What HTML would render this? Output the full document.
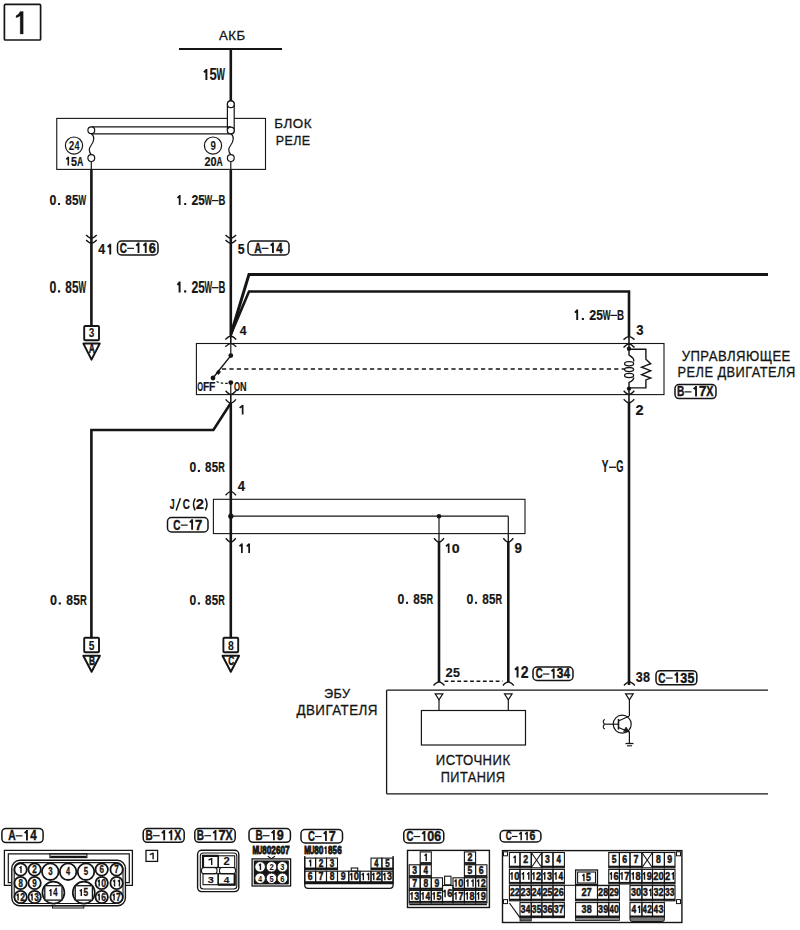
<!DOCTYPE html>
<html><head><meta charset="utf-8"><style>
html,body{margin:0;padding:0;background:#fff;width:800px;height:930px;overflow:hidden}
svg{display:block}
text{font-family:"Liberation Sans",sans-serif;fill:#151515}

</style></head><body>
<svg width="800" height="930" viewBox="0 0 800 930" stroke="#151515" stroke-linecap="butt">
<rect x="0" y="0" width="800" height="930" fill="#fff" stroke="none"/>
<g stroke="#151515">
<rect x="4.4" y="4.4" width="36.2" height="35.6" rx="1" fill="none" stroke-width="1.7" />
<path d="M20.2,11.6 L23.2,11.6 L23.2,34 L20.2,34 L20.2,15.8 Q18.5,17.3 16,17.6 L16,15.7 Q18.8,15 20.2,11.6 Z" fill="#151515" stroke-width="0.3" />
<text x="219.00" y="39.7" font-size="12.43" letter-spacing="0.44" textLength="26.50" lengthAdjust="spacingAndGlyphs" stroke-width="0.3">АКБ</text>
<line x1="179" y1="49" x2="282" y2="49" stroke-width="2.2" />
<line x1="230.8" y1="49" x2="230.8" y2="104" stroke-width="2.6" />
<path d="M206.40,69.00 L206.40,80.00 M206.60,69.59 L204.00,72.30" stroke-width="1.98" fill="none" stroke-linecap="butt"/>
<text transform="translate(209.61,80) scale(0.825,1)" font-size="15.71" font-weight="bold" stroke-width="0.20">5</text>
<text transform="translate(216.55,80) scale(0.569,1)" font-size="15.71" font-weight="bold" stroke-width="0.20">W</text>
<rect x="56.75" y="118.4" width="208.75" height="51.0" rx="0" fill="none" stroke-width="1.1" />
<text x="274.25" y="127.75" font-size="12.86" letter-spacing="0.45" textLength="37.75" lengthAdjust="spacingAndGlyphs" stroke-width="0.3">БЛОК</text>
<text x="275.75" y="145.4" font-size="13.43" letter-spacing="0.47" textLength="34.75" lengthAdjust="spacingAndGlyphs" stroke-width="0.3">РЕЛЕ</text>
<path d="M227.4,104.3 L227.4,130.5 A3.4,3.4 0 0 0 234.2,130.5 L234.2,104.3 A3.4,3.4 0 0 0 227.4,104.3 Z" fill="#fff" stroke-width="1.2" />
<circle cx="230.8" cy="104.3" r="3.4" fill="#fff" stroke-width="1.2"/>
<line x1="91.3" y1="126.8" x2="231" y2="126.8" stroke-width="1.3" />
<line x1="91.3" y1="133.9" x2="229" y2="133.9" stroke-width="1.3" />
<circle cx="91.3" cy="130.3" r="3.4" fill="#fff" stroke-width="1.2"/>
<circle cx="230.8" cy="130.5" r="3.4" fill="#fff" stroke-width="1.2"/>
<path d="M91.3,133.7 C94.8,136 94.3,141 91.3,145 C88.3,149 88.8,152 91.3,154.7" fill="none" stroke-width="1.2" />
<circle cx="91.3" cy="158.1" r="3.4" fill="#fff" stroke-width="1.2"/>
<path d="M230.8,133.7 C234.3,136 233.8,141 230.8,145 C227.8,149 228.3,152 230.8,154.7" fill="none" stroke-width="1.2" />
<circle cx="230.8" cy="158.1" r="3.4" fill="#fff" stroke-width="1.2"/>
<circle cx="74" cy="145.6" r="8.6" fill="#fff" stroke-width="1.2"/>
<text transform="translate(68.65,149.7) scale(0.845,1)" font-size="11.86" font-weight="bold" stroke-width="0.00">2</text>
<text transform="translate(74.46,149.7) scale(0.758,1)" font-size="11.86" font-weight="bold" stroke-width="0.00">4</text>
<path d="M68.31,156.70 L68.31,165.50 M68.47,157.18 L66.30,159.34" stroke-width="1.58" fill="none" stroke-linecap="butt"/>
<text transform="translate(70.93,165.5) scale(0.851,1)" font-size="12.57" font-weight="bold" stroke-width="0.20">5</text>
<text transform="translate(76.97,165.5) scale(0.702,1)" font-size="12.57" font-weight="bold" stroke-width="0.20">A</text>
<circle cx="213" cy="145.6" r="8.6" fill="#fff" stroke-width="1.2"/>
<text transform="translate(210.56,149.7) scale(0.808,1)" font-size="12.00" font-weight="bold" stroke-width="0.00">9</text>
<text transform="translate(204.62,165.5) scale(0.859,1)" font-size="12.57" font-weight="bold" stroke-width="0.20">2</text>
<text transform="translate(210.59,165.5) scale(0.868,1)" font-size="12.57" font-weight="bold" stroke-width="0.20">0</text>
<text transform="translate(216.56,165.5) scale(0.679,1)" font-size="12.57" font-weight="bold" stroke-width="0.20">A</text>
<line x1="91.3" y1="161.5" x2="91.3" y2="169.4" stroke-width="1.2" />
<line x1="230.8" y1="161.5" x2="230.8" y2="169.4" stroke-width="1.2" />
<line x1="91.4" y1="169.4" x2="91.4" y2="326" stroke-width="2.6" />
<line x1="230.8" y1="169.4" x2="230.8" y2="336.5" stroke-width="2.6" />
<line x1="230.8" y1="336.5" x2="230.8" y2="344" stroke-width="1.6" />
<text transform="translate(49.51,205) scale(0.862,1)" font-size="14.29" font-weight="bold" stroke-width="0.20">0</text>
<rect x="58.05" y="203.00" width="2.00" height="2.00" fill="#151515" stroke="none"/>
<text transform="translate(65.30,205) scale(0.828,1)" font-size="14.29" font-weight="bold" stroke-width="0.20">8</text>
<text transform="translate(72.11,205) scale(0.819,1)" font-size="14.29" font-weight="bold" stroke-width="0.20">5</text>
<text transform="translate(78.38,205) scale(0.565,1)" font-size="14.29" font-weight="bold" stroke-width="0.20">W</text>
<path d="M179.68,195.00 L179.68,205.00 M179.86,195.54 L177.50,198.00" stroke-width="1.80" fill="none" stroke-linecap="butt"/>
<rect x="184.19" y="203.00" width="2.00" height="2.00" fill="#151515" stroke="none"/>
<text transform="translate(191.39,205) scale(0.857,1)" font-size="14.29" font-weight="bold" stroke-width="0.20">2</text>
<text transform="translate(198.30,205) scale(0.823,1)" font-size="14.29" font-weight="bold" stroke-width="0.20">5</text>
<text transform="translate(204.60,205) scale(0.567,1)" font-size="14.29" font-weight="bold" stroke-width="0.20">W</text>
<rect x="212.01" y="200.03" width="6.49" height="1.15" fill="#151515" stroke="none"/>
<text transform="translate(218.57,205) scale(0.667,1)" font-size="14.29" font-weight="bold" stroke-width="0.20">B</text>
<path d="M86.10,235.10 Q89.55,238.46 91.40,238.30 Q93.26,238.46 96.70,235.10" fill="none" stroke-width="1.4" />
<path d="M86.10,239.90 Q89.55,243.26 91.40,243.10 Q93.26,243.26 96.70,239.90" fill="none" stroke-width="1.4" />
<path d="M225.50,235.10 Q228.95,238.46 230.80,238.30 Q232.66,238.46 236.10,235.10" fill="none" stroke-width="1.4" />
<path d="M225.50,239.90 Q228.95,243.26 230.80,243.10 Q232.66,243.26 236.10,239.90" fill="none" stroke-width="1.4" />
<text transform="translate(98.21,254.4) scale(0.821,1)" font-size="15.14" font-weight="bold" stroke-width="0.20">4</text>
<path d="M110.25,243.80 L110.25,254.40 M110.44,244.37 L107.72,246.98" stroke-width="1.91" fill="none" stroke-linecap="butt"/>
<rect x="117.5" y="241" width="40.5" height="14" rx="4.0" fill="none" stroke-width="1.5" />
<text transform="translate(119.77,252.88) scale(0.669,1)" font-size="14.80" font-weight="bold" stroke-width="0.45">C</text>
<rect x="127.19" y="247.73" width="6.85" height="1.19" fill="#151515" stroke="none"/>
<path d="M138.51,242.52 L138.51,252.88 M138.70,243.08 L136.20,245.63" stroke-width="1.86" fill="none" stroke-linecap="butt"/>
<path d="M145.72,242.52 L145.72,252.88 M145.91,243.08 L143.41,245.63" stroke-width="1.86" fill="none" stroke-linecap="butt"/>
<text transform="translate(148.69,252.88) scale(0.864,1)" font-size="14.80" font-weight="bold" stroke-width="0.45">6</text>
<text transform="translate(237.63,254.4) scale(0.819,1)" font-size="15.14" font-weight="bold" stroke-width="0.20">5</text>
<rect x="248" y="241" width="41" height="14" rx="4.0" fill="none" stroke-width="1.5" />
<text transform="translate(254.19,252.88) scale(0.689,1)" font-size="14.80" font-weight="bold" stroke-width="0.45">A</text>
<rect x="261.65" y="247.73" width="6.84" height="1.19" fill="#151515" stroke="none"/>
<path d="M272.95,242.52 L272.95,252.88 M273.13,243.08 L270.64,245.63" stroke-width="1.86" fill="none" stroke-linecap="butt"/>
<text transform="translate(276.19,252.88) scale(0.782,1)" font-size="14.80" font-weight="bold" stroke-width="0.45">4</text>
<text transform="translate(49.51,292.5) scale(0.784,1)" font-size="15.71" font-weight="bold" stroke-width="0.20">0</text>
<rect x="57.95" y="290.30" width="2.20" height="2.20" fill="#151515" stroke="none"/>
<text transform="translate(65.30,292.5) scale(0.752,1)" font-size="15.71" font-weight="bold" stroke-width="0.20">8</text>
<text transform="translate(72.11,292.5) scale(0.745,1)" font-size="15.71" font-weight="bold" stroke-width="0.20">5</text>
<text transform="translate(78.38,292.5) scale(0.513,1)" font-size="15.71" font-weight="bold" stroke-width="0.20">W</text>
<path d="M179.59,281.50 L179.59,292.50 M179.78,282.09 L177.50,284.80" stroke-width="1.98" fill="none" stroke-linecap="butt"/>
<rect x="184.09" y="290.30" width="2.20" height="2.20" fill="#151515" stroke="none"/>
<text transform="translate(191.39,292.5) scale(0.779,1)" font-size="15.71" font-weight="bold" stroke-width="0.20">2</text>
<text transform="translate(198.30,292.5) scale(0.748,1)" font-size="15.71" font-weight="bold" stroke-width="0.20">5</text>
<text transform="translate(204.60,292.5) scale(0.515,1)" font-size="15.71" font-weight="bold" stroke-width="0.20">W</text>
<rect x="212.01" y="287.03" width="6.49" height="1.27" fill="#151515" stroke="none"/>
<text transform="translate(218.57,292.5) scale(0.606,1)" font-size="15.71" font-weight="bold" stroke-width="0.20">B</text>
<rect x="84.2" y="326" width="14.799999999999997" height="14.300000000000011" rx="1" fill="none" stroke-width="1.9" />
<text transform="translate(88.86,337.4) scale(0.792,1)" font-size="12.71" font-weight="bold" stroke-width="0.10">3</text>
<path d="M83.4,343.6 L99.7,343.6 L91.5,359.6 Z" fill="#fff" stroke-width="2.0" stroke-linejoin="round"/>
<text transform="translate(88.84,353.4) scale(0.647,1)" font-size="13.14" font-weight="bold" stroke-width="0.55">A</text>
<polyline points="231,334 249,274.4 768,274.4" fill="none" stroke-width="3.0" />
<polyline points="231,334 249,291.5 629,291.5 629,336.6" fill="none" stroke-width="2.6" />
<line x1="629" y1="336.6" x2="629" y2="344" stroke-width="1.6" />
<text transform="translate(239.82,335) scale(0.945,1)" font-size="12.86" font-weight="bold" stroke-width="0.20">4</text>
<path d="M577.20,309.50 L577.20,320.00 M577.39,310.07 L575.00,312.65" stroke-width="1.89" fill="none" stroke-linecap="butt"/>
<rect x="581.82" y="317.90" width="2.10" height="2.10" fill="#151515" stroke="none"/>
<text transform="translate(589.21,320) scale(0.835,1)" font-size="15.00" font-weight="bold" stroke-width="0.20">2</text>
<text transform="translate(596.28,320) scale(0.802,1)" font-size="15.00" font-weight="bold" stroke-width="0.20">5</text>
<text transform="translate(602.73,320) scale(0.553,1)" font-size="15.00" font-weight="bold" stroke-width="0.20">W</text>
<rect x="610.31" y="314.78" width="6.64" height="1.21" fill="#151515" stroke="none"/>
<text transform="translate(617.02,320) scale(0.650,1)" font-size="15.00" font-weight="bold" stroke-width="0.20">B</text>
<text transform="translate(636.17,335) scale(0.875,1)" font-size="15.00" font-weight="bold" stroke-width="0.20">3</text>
<rect x="196.4" y="343.5" width="467.6" height="51.10000000000002" rx="0" fill="none" stroke-width="1.1" />
<path d="M225.30,339.50 Q228.88,336.14 230.80,336.30 Q232.73,336.14 236.30,339.50" fill="none" stroke-width="1.4" />
<path d="M225.30,346.80 Q228.88,343.44 230.80,343.60 Q232.73,343.44 236.30,346.80" fill="none" stroke-width="1.4" />
<path d="M623.50,339.60 Q627.08,336.45 629.00,336.60 Q630.92,336.45 634.50,339.60" fill="none" stroke-width="1.4" />
<path d="M623.50,347.60 Q627.08,343.82 629.00,344.00 Q630.92,343.82 634.50,347.60" fill="none" stroke-width="1.4" />
<path d="M225.60,390.80 Q228.98,394.58 230.80,394.40 Q232.62,394.58 236.00,390.80" fill="none" stroke-width="1.4" />
<path d="M225.60,399.40 Q228.98,403.18 230.80,403.00 Q232.62,403.18 236.00,399.40" fill="none" stroke-width="1.4" />
<path d="M623.70,390.80 Q627.14,394.58 629.00,394.40 Q630.86,394.58 634.30,390.80" fill="none" stroke-width="1.4" />
<path d="M623.70,399.20 Q627.14,402.77 629.00,402.60 Q630.86,402.77 634.30,399.20" fill="none" stroke-width="1.4" />
<line x1="629" y1="394.6" x2="629" y2="402.6" stroke-width="1.6" />
<line x1="230.8" y1="343.6" x2="230.8" y2="355.6" stroke-width="1.2" />
<circle cx="230.8" cy="355.6" r="2.4" fill="#151515" stroke="none"/>
<line x1="230.8" y1="355.6" x2="213" y2="378" stroke-width="1.4" />
<circle cx="213" cy="378" r="2.4" fill="#151515" stroke="none"/>
<path d="M216.2,372.8 L218.6,374.6 L220.6,371.8 L218.2,370 Z" fill="#151515" stroke-width="0.6" />
<line x1="222" y1="369" x2="624.5" y2="369" stroke-width="1.3" stroke-dasharray="4.2,3.2"/>
<path d="M216.5,381.5 Q222,384 229,383.2" fill="none" stroke-width="1.2" stroke-dasharray="2.5,2"/>
<circle cx="230.8" cy="382.6" r="2.4" fill="#151515" stroke="none"/>
<line x1="230.8" y1="382.6" x2="230.8" y2="394.4" stroke-width="1.2" />
<text transform="translate(197.30,391.4) scale(0.586,1)" font-size="12.86" font-weight="bold" stroke-width="0.20">O</text>
<text transform="translate(203.02,391.4) scale(0.798,1)" font-size="12.86" font-weight="bold" stroke-width="0.20">F</text>
<text transform="translate(209.10,391.4) scale(0.798,1)" font-size="12.86" font-weight="bold" stroke-width="0.20">F</text>
<text transform="translate(234.09,391.4) scale(0.600,1)" font-size="12.86" font-weight="bold" stroke-width="0.20">O</text>
<text transform="translate(240.05,391.4) scale(0.707,1)" font-size="12.86" font-weight="bold" stroke-width="0.20">N</text>
<line x1="629.0" y1="343.6" x2="629.0" y2="348.8" stroke-width="1.5" />
<circle cx="629.0" cy="348.8" r="2.2" fill="#151515" stroke="none"/>
<circle cx="629.0" cy="388.6" r="2.2" fill="#151515" stroke="none"/>
<line x1="629.0" y1="388.6" x2="629.0" y2="394.6" stroke-width="1.5" />
<path d="M629,348.8 L629,355 C631,356.5 633.7,357.5 633.7,360.5 L633.7,361.5" fill="none" stroke-width="1.4" />
<ellipse cx="629.1" cy="363.7" rx="4.5" ry="2.1" fill="none" stroke-width="1.3"/>
<ellipse cx="629.1" cy="369.6" rx="4.5" ry="2.1" fill="none" stroke-width="1.3"/>
<ellipse cx="629.1" cy="375.5" rx="4.5" ry="2.1" fill="none" stroke-width="1.3"/>
<path d="M633.7,377.5 C633.7,380.5 631,381.5 629,382.5 L629,388.6" fill="none" stroke-width="1.4" />
<polyline points="629,349.2 645.9,349.2 645.9,359.3 650.7,363.7 641.6,367.2 650.7,370.7 641.6,374.6 650.7,378.1 645.9,379.9 645.9,387.9 629,387.9" fill="none" stroke-width="1.4" />
<text x="681.70" y="360.8" font-size="14.00" letter-spacing="0.49" textLength="109.10" lengthAdjust="spacingAndGlyphs" stroke-width="0.3">УПРАВЛЯЮЩЕЕ</text>
<text x="677.60" y="376.6" font-size="14.00" letter-spacing="0.49" textLength="118.10" lengthAdjust="spacingAndGlyphs" stroke-width="0.3">РЕЛЕ ДВИГАТЕЛЯ</text>
<rect x="675" y="384.5" width="41" height="14.100000000000023" rx="4.0" fill="none" stroke-width="1.5" />
<text transform="translate(677.00,396.45) scale(0.683,1)" font-size="14.86" font-weight="bold" stroke-width="0.45">B</text>
<rect x="684.58" y="391.28" width="6.92" height="1.20" fill="#151515" stroke="none"/>
<path d="M696.02,386.05 L696.02,396.45 M696.21,386.61 L693.68,389.17" stroke-width="1.87" fill="none" stroke-linecap="butt"/>
<text transform="translate(698.94,396.45) scale(0.887,1)" font-size="14.86" font-weight="bold" stroke-width="0.45">7</text>
<text transform="translate(706.31,396.45) scale(0.722,1)" font-size="14.86" font-weight="bold" stroke-width="0.45">X</text>
<path d="M242.65,405.00 L242.65,414.50 M242.82,405.51 L239.60,407.85" stroke-width="1.71" fill="none" stroke-linecap="butt"/>
<text transform="translate(635.49,414.5) scale(0.972,1)" font-size="15.00" font-weight="bold" stroke-width="0.20">2</text>
<line x1="230.8" y1="394.4" x2="230.8" y2="403" stroke-width="1.6" />
<line x1="230.8" y1="403" x2="230.8" y2="638.4" stroke-width="2.6" />
<polyline points="230.8,403 213.4,430 91.4,430 91.4,638.4" fill="none" stroke-width="2.6" />
<line x1="629" y1="402.6" x2="629" y2="685" stroke-width="2.6" />
<text transform="translate(189.52,472) scale(0.807,1)" font-size="15.00" font-weight="bold" stroke-width="0.20">0</text>
<rect x="197.84" y="469.90" width="2.10" height="2.10" fill="#151515" stroke="none"/>
<text transform="translate(205.03,472) scale(0.774,1)" font-size="15.00" font-weight="bold" stroke-width="0.20">8</text>
<text transform="translate(211.72,472) scale(0.767,1)" font-size="15.00" font-weight="bold" stroke-width="0.20">5</text>
<text transform="translate(218.16,472) scale(0.604,1)" font-size="15.00" font-weight="bold" stroke-width="0.20">R</text>
<text transform="translate(601.80,472.4) scale(0.600,1)" font-size="16.71" font-weight="bold" stroke-width="0.20">Y</text>
<rect x="609.01" y="466.58" width="6.98" height="1.35" fill="#151515" stroke="none"/>
<text transform="translate(616.31,472.4) scale(0.560,1)" font-size="16.71" font-weight="bold" stroke-width="0.20">G</text>
<text transform="translate(237.80,490.6) scale(0.954,1)" font-size="13.71" font-weight="bold" stroke-width="0.20">4</text>
<rect x="213.4" y="499.3" width="311.6" height="34.30000000000001" rx="0" fill="none" stroke-width="1.1" />
<path d="M225.60,495.20 Q228.98,491.42 230.80,491.60 Q232.62,491.42 236.00,495.20" fill="none" stroke-width="1.4" />
<line x1="230.8" y1="516.2" x2="508.3" y2="516.2" stroke-width="1.2" />
<line x1="508.3" y1="516.2" x2="508.3" y2="533.6" stroke-width="1.2" />
<line x1="439" y1="516.2" x2="439" y2="533.6" stroke-width="1.2" />
<circle cx="230.8" cy="516.2" r="2.6" fill="#151515" stroke="none"/>
<circle cx="439" cy="516.2" r="2.3" fill="#151515" stroke="none"/>
<text transform="translate(169.87,509) scale(0.607,1)" font-size="14.57" font-weight="bold" stroke-width="0.20">J</text>
<line x1="176.2" y1="510.4" x2="180.4" y2="498.3" stroke-width="1.5" />
<text transform="translate(182.70,509.3) scale(0.662,1)" font-size="15.00" font-weight="bold" stroke-width="0.20">C</text>
<path d="M195.2,498.3 Q191.8,504.3 195.2,510.3" fill="none" stroke-width="1.5" />
<text transform="translate(195.78,509) scale(1.015,1)" font-size="14.57" font-weight="bold" stroke-width="0.20">2</text>
<path d="M205.3,498.3 Q208.7,504.3 205.3,510.3" fill="none" stroke-width="1.5" />
<rect x="167.5" y="517.6" width="40.5" height="14.399999999999977" rx="4.0" fill="none" stroke-width="1.5" />
<text transform="translate(173.34,529.6999999999999) scale(0.668,1)" font-size="14.86" font-weight="bold" stroke-width="0.45">C</text>
<rect x="180.78" y="524.53" width="6.86" height="1.20" fill="#151515" stroke="none"/>
<path d="M192.12,519.30 L192.12,529.70 M192.31,519.86 L189.81,522.42" stroke-width="1.87" fill="none" stroke-linecap="butt"/>
<text transform="translate(195.03,529.6999999999999) scale(0.880,1)" font-size="14.86" font-weight="bold" stroke-width="0.45">7</text>
<path d="M225.80,538.20 Q229.05,542.19 230.80,542.00 Q232.55,542.19 235.80,538.20" fill="none" stroke-width="1.4" />
<path d="M434.00,538.20 Q437.25,542.19 439.00,542.00 Q440.75,542.19 444.00,538.20" fill="none" stroke-width="1.4" />
<path d="M503.30,538.20 Q506.55,542.19 508.30,542.00 Q510.05,542.19 513.30,538.20" fill="none" stroke-width="1.4" />
<path d="M241.89,543.40 L241.89,553.00 M242.07,543.92 L239.50,546.28" stroke-width="1.73" fill="none" stroke-linecap="butt"/>
<path d="M249.14,543.40 L249.14,553.00 M249.31,543.92 L246.74,546.28" stroke-width="1.73" fill="none" stroke-linecap="butt"/>
<path d="M448.67,543.40 L448.67,553.00 M448.84,543.92 L446.00,546.28" stroke-width="1.73" fill="none" stroke-linecap="butt"/>
<text transform="translate(451.68,553) scale(1.037,1)" font-size="13.71" font-weight="bold" stroke-width="0.20">0</text>
<text transform="translate(514.53,553) scale(0.977,1)" font-size="13.71" font-weight="bold" stroke-width="0.20">9</text>
<line x1="439" y1="533.6" x2="439" y2="542" stroke-width="1.3" />
<line x1="508.3" y1="533.6" x2="508.3" y2="542" stroke-width="1.3" />
<line x1="439" y1="541.5" x2="439" y2="682" stroke-width="2.6" />
<line x1="508.3" y1="541.5" x2="508.3" y2="682" stroke-width="2.6" />
<text transform="translate(49.99,604.5) scale(0.842,1)" font-size="15.00" font-weight="bold" stroke-width="0.20">0</text>
<rect x="58.73" y="602.40" width="2.10" height="2.10" fill="#151515" stroke="none"/>
<text transform="translate(66.18,604.5) scale(0.808,1)" font-size="15.00" font-weight="bold" stroke-width="0.20">8</text>
<text transform="translate(73.16,604.5) scale(0.800,1)" font-size="15.00" font-weight="bold" stroke-width="0.20">5</text>
<text transform="translate(79.89,604.5) scale(0.630,1)" font-size="15.00" font-weight="bold" stroke-width="0.20">R</text>
<text transform="translate(189.52,604.5) scale(0.807,1)" font-size="15.00" font-weight="bold" stroke-width="0.20">0</text>
<rect x="197.84" y="602.40" width="2.10" height="2.10" fill="#151515" stroke="none"/>
<text transform="translate(205.03,604.5) scale(0.774,1)" font-size="15.00" font-weight="bold" stroke-width="0.20">8</text>
<text transform="translate(211.72,604.5) scale(0.767,1)" font-size="15.00" font-weight="bold" stroke-width="0.20">5</text>
<text transform="translate(218.16,604.5) scale(0.604,1)" font-size="15.00" font-weight="bold" stroke-width="0.20">R</text>
<text transform="translate(397.51,603.8) scale(0.843,1)" font-size="14.57" font-weight="bold" stroke-width="0.20">0</text>
<rect x="406.00" y="601.76" width="2.04" height="2.04" fill="#151515" stroke="none"/>
<text transform="translate(413.25,603.8) scale(0.809,1)" font-size="14.57" font-weight="bold" stroke-width="0.20">8</text>
<text transform="translate(420.03,603.8) scale(0.801,1)" font-size="14.57" font-weight="bold" stroke-width="0.20">5</text>
<text transform="translate(426.57,603.8) scale(0.630,1)" font-size="14.57" font-weight="bold" stroke-width="0.20">R</text>
<text transform="translate(466.51,603.8) scale(0.843,1)" font-size="14.57" font-weight="bold" stroke-width="0.20">0</text>
<rect x="475.00" y="601.76" width="2.04" height="2.04" fill="#151515" stroke="none"/>
<text transform="translate(482.25,603.8) scale(0.809,1)" font-size="14.57" font-weight="bold" stroke-width="0.20">8</text>
<text transform="translate(489.03,603.8) scale(0.801,1)" font-size="14.57" font-weight="bold" stroke-width="0.20">5</text>
<text transform="translate(495.57,603.8) scale(0.630,1)" font-size="14.57" font-weight="bold" stroke-width="0.20">R</text>
<rect x="84.19999999999999" y="637.8" width="14.800000000000011" height="14.5" rx="1" fill="none" stroke-width="1.9" />
<text transform="translate(88.71,649.6) scale(0.784,1)" font-size="13.14" font-weight="bold" stroke-width="0.10">5</text>
<path d="M83.3,655.8 L99.89999999999999,655.8 L91.6,671.8 Z" fill="#fff" stroke-width="2.0" stroke-linejoin="round"/>
<text transform="translate(89.01,664.9) scale(0.665,1)" font-size="12.57" font-weight="bold" stroke-width="0.55">B</text>
<rect x="223.4" y="637.8" width="14.800000000000011" height="14.5" rx="1" fill="none" stroke-width="1.9" />
<text transform="translate(227.91,649.6) scale(0.792,1)" font-size="13.14" font-weight="bold" stroke-width="0.10">8</text>
<path d="M222.5,655.8 L239.10000000000002,655.8 L230.8,671.8 Z" fill="#fff" stroke-width="2.0" stroke-linejoin="round"/>
<text transform="translate(228.27,664.9) scale(0.656,1)" font-size="12.57" font-weight="bold" stroke-width="0.55">C</text>
<line x1="386.6" y1="690.2" x2="768" y2="690.2" stroke-width="1.3" />
<line x1="386.6" y1="793.8" x2="768" y2="793.8" stroke-width="1.3" />
<line x1="386.6" y1="690.2" x2="386.6" y2="793.8" stroke-width="1.3" />
<text x="323.90" y="697.5" font-size="13.43" letter-spacing="0.47" textLength="26.60" lengthAdjust="spacingAndGlyphs" stroke-width="0.3">ЭБУ</text>
<text x="296.40" y="715" font-size="14.29" letter-spacing="0.50" textLength="81.60" lengthAdjust="spacingAndGlyphs" stroke-width="0.3">ДВИГАТЕЛЯ</text>
<line x1="444.5" y1="681.3" x2="502.5" y2="681.3" stroke-width="1.4" stroke-dasharray="3.8,2.6"/>
<path d="M433.50,685.40 Q437.07,681.83 439.00,682.00 Q440.93,681.83 444.50,685.40" fill="none" stroke-width="1.4" />
<path d="M435.2,693.8 L442.8,693.8 L439,699.8 Z" fill="#fff" stroke-width="1.2" />
<path d="M502.80,685.40 Q506.38,681.83 508.30,682.00 Q510.23,681.83 513.80,685.40" fill="none" stroke-width="1.4" />
<path d="M504.5,693.8 L512.1,693.8 L508.3,699.8 Z" fill="#fff" stroke-width="1.2" />
<path d="M623.90,685.40 Q627.48,681.83 629.40,682.00 Q631.32,681.83 634.90,685.40" fill="none" stroke-width="1.4" />
<path d="M625.6,693.8 L633.1999999999999,693.8 L629.4,699.8 Z" fill="#fff" stroke-width="1.2" />
<line x1="439" y1="699.8" x2="439" y2="710.5" stroke-width="1.2" />
<line x1="508.3" y1="699.8" x2="508.3" y2="710.5" stroke-width="1.2" />
<rect x="421.4" y="710.5" width="104.10000000000002" height="34.5" rx="0" fill="none" stroke-width="1.2" />
<text x="435.75" y="765" font-size="14.29" letter-spacing="0.50" textLength="74.75" lengthAdjust="spacingAndGlyphs" stroke-width="0.3">ИСТОЧНИК</text>
<text x="440.75" y="782.25" font-size="13.93" letter-spacing="0.49" textLength="64.75" lengthAdjust="spacingAndGlyphs" stroke-width="0.3">ПИТАНИЯ</text>
<text transform="translate(445.54,677) scale(0.968,1)" font-size="13.43" font-weight="bold" stroke-width="0.20">2</text>
<text transform="translate(452.88,677) scale(0.930,1)" font-size="13.43" font-weight="bold" stroke-width="0.20">5</text>
<path d="M517.54,666.50 L517.54,677.50 M517.74,667.09 L515.00,669.80" stroke-width="1.98" fill="none" stroke-linecap="butt"/>
<text transform="translate(520.75,677.5) scale(0.896,1)" font-size="15.71" font-weight="bold" stroke-width="0.20">2</text>
<rect x="533" y="667" width="40" height="13.5" rx="4.0" fill="none" stroke-width="1.5" />
<text transform="translate(535.66,678.445) scale(0.669,1)" font-size="14.27" font-weight="bold" stroke-width="0.45">C</text>
<rect x="542.82" y="673.47" width="6.60" height="1.15" fill="#151515" stroke="none"/>
<path d="M553.73,668.46 L553.73,678.45 M553.91,668.99 L551.51,671.45" stroke-width="1.80" fill="none" stroke-linecap="butt"/>
<text transform="translate(556.73,678.445) scale(0.846,1)" font-size="14.27" font-weight="bold" stroke-width="0.45">3</text>
<text transform="translate(563.81,678.445) scale(0.783,1)" font-size="14.27" font-weight="bold" stroke-width="0.45">4</text>
<text transform="translate(635.68,681.8) scale(0.874,1)" font-size="14.43" font-weight="bold" stroke-width="0.20">3</text>
<text transform="translate(642.88,681.8) scale(0.874,1)" font-size="14.43" font-weight="bold" stroke-width="0.20">8</text>
<rect x="656" y="670.7" width="40.799999999999955" height="14.099999999999909" rx="4.0" fill="none" stroke-width="1.5" />
<text transform="translate(658.35,682.65) scale(0.669,1)" font-size="14.86" font-weight="bold" stroke-width="0.45">C</text>
<rect x="665.80" y="677.48" width="6.87" height="1.20" fill="#151515" stroke="none"/>
<path d="M677.16,672.25 L677.16,682.65 M677.35,672.81 L674.84,675.37" stroke-width="1.87" fill="none" stroke-linecap="butt"/>
<text transform="translate(680.28,682.65) scale(0.846,1)" font-size="14.86" font-weight="bold" stroke-width="0.45">3</text>
<text transform="translate(687.46,682.65) scale(0.838,1)" font-size="14.86" font-weight="bold" stroke-width="0.45">5</text>
<line x1="629.4" y1="699.8" x2="629.4" y2="716" stroke-width="1.2" />
<circle cx="622.2" cy="724.2" r="9" fill="#fff" stroke-width="1.2"/>
<line x1="618.5" y1="719" x2="618.5" y2="729.5" stroke-width="1.6" />
<line x1="604.5" y1="724.2" x2="618.5" y2="724.2" stroke-width="1.2" />
<path d="M604.5,724.2 C602.5,722 603,720 605,719.5" fill="none" stroke-width="1.1" />
<path d="M604.5,724.2 C602.5,726.5 603,728.5 605,729" fill="none" stroke-width="1.1" />
<line x1="618.5" y1="721" x2="629.4" y2="716" stroke-width="1.2" />
<line x1="618.5" y1="727.5" x2="629.4" y2="732" stroke-width="1.2" />
<path d="M629.4,732 L623.5,731.5 L626,727 Z" fill="#151515" stroke-width="0.6" />
<line x1="629.4" y1="732" x2="629.4" y2="743.5" stroke-width="1.2" />
<line x1="625.5" y1="743.5" x2="633.5" y2="743.5" stroke-width="1.3" />
<line x1="627" y1="745.8" x2="632" y2="745.8" stroke-width="1.1" />
<rect x="1.9" y="828.4" width="41.2" height="14.200000000000045" rx="4.0" fill="none" stroke-width="1.5" />
<text transform="translate(8.14,840.4) scale(0.689,1)" font-size="14.86" font-weight="bold" stroke-width="0.45">A</text>
<rect x="15.62" y="835.23" width="6.86" height="1.20" fill="#151515" stroke="none"/>
<path d="M26.96,830.00 L26.96,840.40 M27.15,830.56 L24.65,833.12" stroke-width="1.87" fill="none" stroke-linecap="butt"/>
<text transform="translate(30.22,840.4) scale(0.782,1)" font-size="14.86" font-weight="bold" stroke-width="0.45">4</text>
<polyline points="11,885.3 4.4,885.3 4.4,850.3 132.4,850.3 132.4,885.3 125.5,885.3" fill="none" stroke-width="1.3" />
<polyline points="11.5,882.6 8.3,882.6 8.3,853.8 129.3,853.8 129.3,882.6 125.5,882.6" fill="none" stroke-width="1.2" />
<rect x="49.9" y="853.8" width="37.00000000000001" height="3.800000000000068" rx="0" fill="none" stroke-width="1.1" />
<line x1="50.5" y1="856.6" x2="86.3" y2="856.6" stroke-width="1.6" />
<rect x="11.8" y="860.3" width="113.60000000000001" height="45.5" rx="8" fill="none" stroke-width="1.4" />
<rect x="14.2" y="862.6" width="108.8" height="40.89999999999998" rx="6.5" fill="none" stroke-width="1.1" />
<rect x="52.5" y="905.8" width="31.299999999999997" height="2.2000000000000455" rx="0" fill="none" stroke-width="1.0" />
<circle cx="20.6" cy="869.5" r="6.2" fill="#fff" stroke-width="1.8"/>
<path d="M21.00,866.00 L21.00,873.00 M21.14,866.42 L19.50,868.10" stroke-width="1.40" fill="none" stroke-linecap="butt"/>
<circle cx="34.6" cy="869.5" r="6.2" fill="#fff" stroke-width="1.8"/>
<text transform="translate(32.35,873.0) scale(0.817,1)" font-size="10.00" font-weight="bold" stroke-width="0.30">2</text>
<circle cx="101.7" cy="869.5" r="6.2" fill="#fff" stroke-width="1.8"/>
<text transform="translate(99.46,873.0) scale(0.808,1)" font-size="10.00" font-weight="bold" stroke-width="0.30">6</text>
<circle cx="116.6" cy="869.5" r="6.2" fill="#fff" stroke-width="1.8"/>
<text transform="translate(114.31,873.0) scale(0.825,1)" font-size="10.00" font-weight="bold" stroke-width="0.30">7</text>
<circle cx="20.6" cy="883" r="6.2" fill="#fff" stroke-width="1.8"/>
<text transform="translate(18.40,886.5) scale(0.792,1)" font-size="10.00" font-weight="bold" stroke-width="0.30">8</text>
<circle cx="34.6" cy="883" r="6.2" fill="#fff" stroke-width="1.8"/>
<text transform="translate(32.36,886.5) scale(0.808,1)" font-size="10.00" font-weight="bold" stroke-width="0.30">9</text>
<circle cx="101.7" cy="883" r="6.2" fill="#fff" stroke-width="1.8"/>
<path d="M99.18,879.50 L99.18,886.50 M99.32,879.92 L97.72,881.60" stroke-width="1.40" fill="none" stroke-linecap="butt"/>
<text transform="translate(101.20,886.5) scale(0.871,1)" font-size="10.00" font-weight="bold" stroke-width="0.30">0</text>
<circle cx="116.6" cy="883" r="6.2" fill="#fff" stroke-width="1.8"/>
<path d="M114.55,879.50 L114.55,886.50 M114.69,879.92 L113.05,881.60" stroke-width="1.40" fill="none" stroke-linecap="butt"/>
<path d="M119.45,879.50 L119.45,886.50 M119.59,879.92 L117.95,881.60" stroke-width="1.40" fill="none" stroke-linecap="butt"/>
<circle cx="20.6" cy="897" r="6.2" fill="#fff" stroke-width="1.8"/>
<path d="M18.08,893.50 L18.08,900.50 M18.22,893.92 L16.62,895.60" stroke-width="1.40" fill="none" stroke-linecap="butt"/>
<text transform="translate(20.14,900.5) scale(0.862,1)" font-size="10.00" font-weight="bold" stroke-width="0.30">2</text>
<circle cx="34.6" cy="897" r="6.2" fill="#fff" stroke-width="1.8"/>
<path d="M32.08,893.50 L32.08,900.50 M32.22,893.92 L30.62,895.60" stroke-width="1.40" fill="none" stroke-linecap="butt"/>
<text transform="translate(34.23,900.5) scale(0.836,1)" font-size="10.00" font-weight="bold" stroke-width="0.30">3</text>
<circle cx="101.7" cy="897" r="6.2" fill="#fff" stroke-width="1.8"/>
<path d="M99.18,893.50 L99.18,900.50 M99.32,893.92 L97.72,895.60" stroke-width="1.40" fill="none" stroke-linecap="butt"/>
<text transform="translate(101.25,900.5) scale(0.853,1)" font-size="10.00" font-weight="bold" stroke-width="0.30">6</text>
<circle cx="116.6" cy="897" r="6.2" fill="#fff" stroke-width="1.8"/>
<path d="M114.08,893.50 L114.08,900.50 M114.22,893.92 L112.62,895.60" stroke-width="1.40" fill="none" stroke-linecap="butt"/>
<text transform="translate(116.10,900.5) scale(0.871,1)" font-size="10.00" font-weight="bold" stroke-width="0.30">7</text>
<circle cx="50.3" cy="871.7" r="8.3" fill="#fff" stroke-width="1.8"/>
<text transform="translate(48.14,875.2) scale(0.792,1)" font-size="10.00" font-weight="bold" stroke-width="0.30">3</text>
<circle cx="68.1" cy="871.7" r="8.3" fill="#fff" stroke-width="1.8"/>
<text transform="translate(66.03,875.2) scale(0.733,1)" font-size="10.00" font-weight="bold" stroke-width="0.30">4</text>
<circle cx="86" cy="871.7" r="8.3" fill="#fff" stroke-width="1.8"/>
<text transform="translate(83.80,875.2) scale(0.784,1)" font-size="10.00" font-weight="bold" stroke-width="0.30">5</text>
<circle cx="53.4" cy="892.7" r="11" fill="#fff" stroke-width="1.7"/>
<rect x="44.8" y="885.7" width="17.200000000000003" height="14.399999999999977" rx="0" fill="#fff" stroke-width="1.3" />
<path d="M50.88,889.00 L50.88,896.00 M51.02,889.42 L49.42,891.10" stroke-width="1.40" fill="none" stroke-linecap="butt"/>
<text transform="translate(53.13,896.0) scale(0.773,1)" font-size="10.00" font-weight="bold" stroke-width="0.30">4</text>
<circle cx="83.8" cy="892.7" r="11" fill="#fff" stroke-width="1.7"/>
<rect x="75.2" y="885.7" width="17.19999999999999" height="14.399999999999977" rx="0" fill="#fff" stroke-width="1.3" />
<path d="M81.28,889.00 L81.28,896.00 M81.42,889.42 L79.82,891.10" stroke-width="1.40" fill="none" stroke-linecap="butt"/>
<text transform="translate(83.40,896.0) scale(0.828,1)" font-size="10.00" font-weight="bold" stroke-width="0.30">5</text>
<rect x="143.2" y="828.5" width="41.0" height="13.799999999999955" rx="4.0" fill="none" stroke-width="1.5" />
<text transform="translate(145.54,840.206) scale(0.683,1)" font-size="14.59" font-weight="bold" stroke-width="0.45">B</text>
<rect x="152.98" y="835.13" width="6.79" height="1.17" fill="#151515" stroke="none"/>
<path d="M164.21,829.99 L164.21,840.21 M164.39,830.55 L161.91,833.06" stroke-width="1.84" fill="none" stroke-linecap="butt"/>
<path d="M171.36,829.99 L171.36,840.21 M171.54,830.55 L169.06,833.06" stroke-width="1.84" fill="none" stroke-linecap="butt"/>
<text transform="translate(174.32,840.206) scale(0.722,1)" font-size="14.59" font-weight="bold" stroke-width="0.45">X</text>
<rect x="146" y="850.4" width="11.599999999999994" height="11.0" rx="0" fill="none" stroke-width="1.3" />
<path d="M153.10,852.80 L153.10,859.20 M153.24,853.22 L149.80,854.72" stroke-width="1.40" fill="none" stroke-linecap="butt"/>
<rect x="194.8" y="828.5" width="40.39999999999998" height="13.799999999999955" rx="4.0" fill="none" stroke-width="1.5" />
<text transform="translate(196.84,840.206) scale(0.683,1)" font-size="14.59" font-weight="bold" stroke-width="0.45">B</text>
<rect x="204.28" y="835.13" width="6.79" height="1.17" fill="#151515" stroke="none"/>
<path d="M215.51,829.99 L215.51,840.21 M215.69,830.55 L213.21,833.06" stroke-width="1.84" fill="none" stroke-linecap="butt"/>
<text transform="translate(218.38,840.206) scale(0.887,1)" font-size="14.59" font-weight="bold" stroke-width="0.45">7</text>
<text transform="translate(225.62,840.206) scale(0.722,1)" font-size="14.59" font-weight="bold" stroke-width="0.45">X</text>
<rect x="197.6" y="850.3" width="41.20000000000002" height="41.30000000000007" rx="4" fill="none" stroke-width="1.4" />
<rect x="200.3" y="853" width="36.5" height="36" rx="3" fill="none" stroke-width="1.1" />
<rect x="203" y="855.8" width="15.199999999999989" height="11.700000000000045" rx="0" fill="none" stroke-width="1.3" />
<rect x="218.2" y="855.8" width="16.5" height="11.700000000000045" rx="0" fill="none" stroke-width="1.1" />
<rect x="203" y="873.7" width="15.199999999999989" height="11.0" rx="0" fill="none" stroke-width="1.1" />
<rect x="218.2" y="873.7" width="16.5" height="11.0" rx="0" fill="none" stroke-width="1.3" />
<polyline points="203,867.5 203,855.8 218.2,855.8" fill="none" stroke-width="2.2" />
<polyline points="218.2,884.7 234.7,884.7 234.7,873.7" fill="none" stroke-width="2.2" />
<rect x="201.5" y="867.5" width="15.5" height="6.2000000000000455" rx="2.5" fill="none" stroke-width="1.1" />
<rect x="219.5" y="867.5" width="16.0" height="6.2000000000000455" rx="2.5" fill="none" stroke-width="1.1" />
<path d="M211.70,858.00 L211.70,865.00 M211.84,858.42 L208.60,860.10" stroke-width="1.40" fill="none" stroke-linecap="butt"/>
<text transform="translate(223.61,865) scale(1.125,1)" font-size="10.00" font-weight="bold" stroke-width="0.15">2</text>
<text transform="translate(207.73,883) scale(1.175,1)" font-size="9.29" font-weight="bold" stroke-width="0.15">3</text>
<text transform="translate(223.85,883) scale(1.087,1)" font-size="9.29" font-weight="bold" stroke-width="0.15">4</text>
<rect x="249" y="828.5" width="41.39999999999998" height="13.799999999999955" rx="4.0" fill="none" stroke-width="1.5" />
<text transform="translate(255.39,840.206) scale(0.677,1)" font-size="14.59" font-weight="bold" stroke-width="0.45">B</text>
<rect x="262.77" y="835.13" width="6.74" height="1.17" fill="#151515" stroke="none"/>
<path d="M273.91,829.99 L273.91,840.21 M274.09,830.55 L271.63,833.06" stroke-width="1.84" fill="none" stroke-linecap="butt"/>
<text transform="translate(276.83,840.206) scale(0.862,1)" font-size="14.59" font-weight="bold" stroke-width="0.45">9</text>
<text transform="translate(252.56,853.7) scale(0.637,1)" font-size="10.71" font-weight="bold" stroke-width="0.90">M</text>
<text transform="translate(257.59,853.7) scale(0.609,1)" font-size="10.71" font-weight="bold" stroke-width="0.90">U</text>
<text transform="translate(262.30,853.7) scale(0.738,1)" font-size="10.71" font-weight="bold" stroke-width="0.90">8</text>
<text transform="translate(266.75,853.7) scale(0.769,1)" font-size="10.71" font-weight="bold" stroke-width="0.90">0</text>
<text transform="translate(271.35,853.7) scale(0.761,1)" font-size="10.71" font-weight="bold" stroke-width="0.90">2</text>
<text transform="translate(275.90,853.7) scale(0.753,1)" font-size="10.71" font-weight="bold" stroke-width="0.90">6</text>
<text transform="translate(280.41,853.7) scale(0.769,1)" font-size="10.71" font-weight="bold" stroke-width="0.90">0</text>
<text transform="translate(284.96,853.7) scale(0.769,1)" font-size="10.71" font-weight="bold" stroke-width="0.90">7</text>
<polyline points="267.7,856.2 271.5,858.6 275,856.2" fill="none" stroke-width="1.1" />
<rect x="252.1" y="858.9" width="38.50000000000003" height="27.100000000000023" rx="0" fill="#fff" stroke-width="1.3" />
<rect x="254.0" y="860.8" width="34.69999999999999" height="23.300000000000068" rx="0" fill="#151515" stroke-width="0.5" />
<circle cx="260.1" cy="866.8" r="5.3" fill="#fff" stroke-width="0.9"/>
<path d="M260.44,863.50 L260.44,870.10 M260.58,863.92 L259.06,865.48" stroke-width="1.40" fill="none" stroke-linecap="butt"/>
<circle cx="260.1" cy="878.3" r="5.3" fill="#fff" stroke-width="0.9"/>
<text transform="translate(258.15,881.5999999999999) scale(0.733,1)" font-size="9.43" font-weight="bold" stroke-width="0.05">4</text>
<circle cx="271.5" cy="866.8" r="5.3" fill="#fff" stroke-width="0.9"/>
<text transform="translate(269.38,870.0999999999999) scale(0.817,1)" font-size="9.43" font-weight="bold" stroke-width="0.05">2</text>
<circle cx="271.5" cy="878.3" r="5.3" fill="#fff" stroke-width="0.9"/>
<text transform="translate(269.43,881.5999999999999) scale(0.784,1)" font-size="9.43" font-weight="bold" stroke-width="0.05">5</text>
<circle cx="282.4" cy="866.8" r="5.3" fill="#fff" stroke-width="0.9"/>
<text transform="translate(280.37,870.0999999999999) scale(0.792,1)" font-size="9.43" font-weight="bold" stroke-width="0.05">3</text>
<circle cx="282.4" cy="878.3" r="5.3" fill="#fff" stroke-width="0.9"/>
<text transform="translate(280.29,881.5999999999999) scale(0.808,1)" font-size="9.43" font-weight="bold" stroke-width="0.05">6</text>
<rect x="301" y="829.5" width="41.5" height="13.5" rx="4.0" fill="none" stroke-width="1.5" />
<text transform="translate(307.91,840.945) scale(0.668,1)" font-size="14.27" font-weight="bold" stroke-width="0.45">C</text>
<rect x="315.05" y="835.97" width="6.59" height="1.15" fill="#151515" stroke="none"/>
<path d="M325.95,830.96 L325.95,840.95 M326.13,831.49 L323.73,833.95" stroke-width="1.80" fill="none" stroke-linecap="butt"/>
<text transform="translate(328.74,840.945) scale(0.880,1)" font-size="14.27" font-weight="bold" stroke-width="0.45">7</text>
<text transform="translate(304.35,853.9) scale(0.627,1)" font-size="11.00" font-weight="bold" stroke-width="0.90">M</text>
<text transform="translate(309.44,853.9) scale(0.600,1)" font-size="11.00" font-weight="bold" stroke-width="0.90">U</text>
<text transform="translate(314.20,853.9) scale(0.727,1)" font-size="11.00" font-weight="bold" stroke-width="0.90">8</text>
<text transform="translate(318.71,853.9) scale(0.757,1)" font-size="11.00" font-weight="bold" stroke-width="0.90">0</text>
<path d="M325.95,846.20 L325.95,853.90 M326.09,846.62 L324.58,848.51" stroke-width="1.40" fill="none" stroke-linecap="butt"/>
<text transform="translate(328.00,853.9) scale(0.727,1)" font-size="11.00" font-weight="bold" stroke-width="0.90">8</text>
<text transform="translate(332.60,853.9) scale(0.719,1)" font-size="11.00" font-weight="bold" stroke-width="0.90">5</text>
<text transform="translate(337.16,853.9) scale(0.742,1)" font-size="11.00" font-weight="bold" stroke-width="0.90">6</text>
<path d="M304.75,856 L304.75,885 Q304.75,888.3 308,888.3 L389.8,888.3 Q393.1,888.3 393.1,885 L393.1,856" fill="none" stroke-width="1.3" />
<line x1="304.75" y1="883.5" x2="393.1" y2="883.5" stroke-width="1.3" />
<rect x="304.75" y="858.1" width="10.850000000000023" height="11.5" rx="0" fill="none" stroke-width="1.1" />
<line x1="304.75" y1="868.4" x2="315.6" y2="868.4" stroke-width="1.8" />
<path d="M310.60,859.49 L310.60,866.62 M310.74,859.90 L309.05,861.62" stroke-width="1.40" fill="none" stroke-linecap="butt"/>
<rect x="315.6" y="858.1" width="10.899999999999977" height="11.5" rx="0" fill="none" stroke-width="1.1" />
<line x1="315.6" y1="868.4" x2="326.5" y2="868.4" stroke-width="1.8" />
<text transform="translate(318.76,866.6150000000001) scale(0.817,1)" font-size="10.19" font-weight="bold" stroke-width="0.50">2</text>
<rect x="326.5" y="858.1" width="11.0" height="11.5" rx="0" fill="none" stroke-width="1.1" />
<line x1="326.5" y1="868.4" x2="337.5" y2="868.4" stroke-width="1.8" />
<text transform="translate(329.80,866.6150000000001) scale(0.792,1)" font-size="10.19" font-weight="bold" stroke-width="0.50">3</text>
<rect x="371" y="858.1" width="10.899999999999977" height="11.5" rx="0" fill="none" stroke-width="1.1" />
<line x1="371" y1="868.4" x2="381.9" y2="868.4" stroke-width="1.8" />
<text transform="translate(374.34,866.6150000000001) scale(0.733,1)" font-size="10.19" font-weight="bold" stroke-width="0.50">4</text>
<rect x="381.9" y="858.1" width="11.200000000000045" height="11.5" rx="0" fill="none" stroke-width="1.1" />
<line x1="381.9" y1="868.4" x2="393.1" y2="868.4" stroke-width="1.8" />
<text transform="translate(385.26,866.6150000000001) scale(0.784,1)" font-size="10.19" font-weight="bold" stroke-width="0.50">5</text>
<rect x="304.75" y="871.2" width="10.850000000000023" height="12.099999999999909" rx="0" fill="none" stroke-width="1.1" />
<line x1="304.75" y1="882.0999999999999" x2="315.6" y2="882.0999999999999" stroke-width="1.8" />
<text transform="translate(307.77,880.201) scale(0.808,1)" font-size="10.72" font-weight="bold" stroke-width="0.50">6</text>
<rect x="315.6" y="871.2" width="10.899999999999977" height="12.099999999999909" rx="0" fill="none" stroke-width="1.1" />
<line x1="315.6" y1="882.0999999999999" x2="326.5" y2="882.0999999999999" stroke-width="1.8" />
<text transform="translate(318.60,880.201) scale(0.825,1)" font-size="10.72" font-weight="bold" stroke-width="0.50">7</text>
<rect x="326.5" y="871.2" width="11.0" height="12.099999999999909" rx="0" fill="none" stroke-width="1.1" />
<line x1="326.5" y1="882.0999999999999" x2="337.5" y2="882.0999999999999" stroke-width="1.8" />
<text transform="translate(329.64,880.201) scale(0.792,1)" font-size="10.72" font-weight="bold" stroke-width="0.50">8</text>
<rect x="337.5" y="871.2" width="11.25" height="12.099999999999909" rx="0" fill="none" stroke-width="1.1" />
<line x1="337.5" y1="882.0999999999999" x2="348.75" y2="882.0999999999999" stroke-width="1.8" />
<text transform="translate(340.72,880.201) scale(0.808,1)" font-size="10.72" font-weight="bold" stroke-width="0.50">9</text>
<rect x="348.75" y="871.2" width="11.25" height="12.099999999999909" rx="0" fill="none" stroke-width="1.1" />
<line x1="348.75" y1="882.0999999999999" x2="360" y2="882.0999999999999" stroke-width="1.8" />
<path d="M351.73,872.70 L351.73,880.20 M351.87,873.12 L350.11,874.95" stroke-width="1.40" fill="none" stroke-linecap="butt"/>
<text transform="translate(353.83,880.201) scale(0.871,1)" font-size="10.72" font-weight="bold" stroke-width="0.50">0</text>
<rect x="360" y="871.2" width="11" height="12.099999999999909" rx="0" fill="none" stroke-width="1.1" />
<line x1="360" y1="882.0999999999999" x2="371" y2="882.0999999999999" stroke-width="1.8" />
<path d="M363.36,872.70 L363.36,880.20 M363.50,873.12 L361.69,874.95" stroke-width="1.40" fill="none" stroke-linecap="butt"/>
<path d="M368.61,872.70 L368.61,880.20 M368.75,873.12 L366.94,874.95" stroke-width="1.40" fill="none" stroke-linecap="butt"/>
<rect x="371" y="871.2" width="10.899999999999977" height="12.099999999999909" rx="0" fill="none" stroke-width="1.1" />
<line x1="371" y1="882.0999999999999" x2="381.9" y2="882.0999999999999" stroke-width="1.8" />
<path d="M373.80,872.70 L373.80,880.20 M373.94,873.12 L372.18,874.95" stroke-width="1.40" fill="none" stroke-linecap="butt"/>
<text transform="translate(375.96,880.201) scale(0.862,1)" font-size="10.72" font-weight="bold" stroke-width="0.50">2</text>
<rect x="381.9" y="871.2" width="11.200000000000045" height="12.099999999999909" rx="0" fill="none" stroke-width="1.1" />
<line x1="381.9" y1="882.0999999999999" x2="393.1" y2="882.0999999999999" stroke-width="1.8" />
<path d="M384.85,872.70 L384.85,880.20 M384.99,873.12 L383.23,874.95" stroke-width="1.40" fill="none" stroke-linecap="butt"/>
<text transform="translate(387.11,880.201) scale(0.836,1)" font-size="10.72" font-weight="bold" stroke-width="0.50">3</text>
<rect x="351.25" y="868" width="6.5" height="3.2000000000000455" rx="0" fill="none" stroke-width="1.1" />
<rect x="403.75" y="829.5" width="40.0" height="13.5" rx="4.0" fill="none" stroke-width="1.5" />
<text transform="translate(406.41,840.945) scale(0.669,1)" font-size="14.27" font-weight="bold" stroke-width="0.45">C</text>
<rect x="413.57" y="835.97" width="6.60" height="1.15" fill="#151515" stroke="none"/>
<path d="M424.48,830.96 L424.48,840.95 M424.66,831.49 L422.26,833.95" stroke-width="1.80" fill="none" stroke-linecap="butt"/>
<text transform="translate(427.28,840.945) scale(0.882,1)" font-size="14.27" font-weight="bold" stroke-width="0.45">0</text>
<text transform="translate(434.30,840.945) scale(0.864,1)" font-size="14.27" font-weight="bold" stroke-width="0.45">6</text>
<rect x="407.5" y="850.4" width="81.89999999999998" height="57.10000000000002" rx="0" fill="none" stroke-width="1.4" />
<rect x="420.2" y="851.9" width="11.100000000000023" height="12.300000000000068" rx="0" fill="none" stroke-width="1.1" />
<line x1="420.2" y1="863.0" x2="431.3" y2="863.0" stroke-width="1.8" />
<path d="M426.25,853.45 L426.25,861.05 M426.39,853.87 L424.55,855.73" stroke-width="1.40" fill="none" stroke-linecap="butt"/>
<rect x="464.4" y="851.9" width="11.200000000000045" height="12.300000000000068" rx="0" fill="none" stroke-width="1.1" />
<line x1="464.4" y1="863.0" x2="475.6" y2="863.0" stroke-width="1.8" />
<text transform="translate(467.56,861.05) scale(0.817,1)" font-size="10.86" font-weight="bold" stroke-width="0.50">2</text>
<rect x="409.2" y="864.8" width="11.0" height="12.400000000000091" rx="0" fill="none" stroke-width="1.1" />
<line x1="409.2" y1="876.0" x2="420.2" y2="876.0" stroke-width="1.8" />
<text transform="translate(412.36,874.0) scale(0.792,1)" font-size="10.86" font-weight="bold" stroke-width="0.50">3</text>
<rect x="420.2" y="864.8" width="11.100000000000023" height="12.400000000000091" rx="0" fill="none" stroke-width="1.1" />
<line x1="420.2" y1="876.0" x2="431.3" y2="876.0" stroke-width="1.8" />
<text transform="translate(423.50,874.0) scale(0.733,1)" font-size="10.86" font-weight="bold" stroke-width="0.50">4</text>
<rect x="464.4" y="864.8" width="11.200000000000045" height="12.400000000000091" rx="0" fill="none" stroke-width="1.1" />
<line x1="464.4" y1="876.0" x2="475.6" y2="876.0" stroke-width="1.8" />
<text transform="translate(467.62,874.0) scale(0.784,1)" font-size="10.86" font-weight="bold" stroke-width="0.50">5</text>
<rect x="475.6" y="864.8" width="11.299999999999955" height="12.400000000000091" rx="0" fill="none" stroke-width="1.1" />
<line x1="475.6" y1="876.0" x2="486.9" y2="876.0" stroke-width="1.8" />
<text transform="translate(478.81,874.0) scale(0.808,1)" font-size="10.86" font-weight="bold" stroke-width="0.50">6</text>
<rect x="409.2" y="877.8" width="11.0" height="12.0" rx="0" fill="none" stroke-width="1.1" />
<line x1="409.2" y1="888.5999999999999" x2="420.2" y2="888.5999999999999" stroke-width="1.8" />
<text transform="translate(412.27,886.72) scale(0.825,1)" font-size="10.63" font-weight="bold" stroke-width="0.50">7</text>
<rect x="420.2" y="877.8" width="11.100000000000023" height="12.0" rx="0" fill="none" stroke-width="1.1" />
<line x1="420.2" y1="888.5999999999999" x2="431.3" y2="888.5999999999999" stroke-width="1.8" />
<text transform="translate(423.41,886.72) scale(0.792,1)" font-size="10.63" font-weight="bold" stroke-width="0.50">8</text>
<rect x="431.3" y="877.8" width="11.199999999999989" height="12.0" rx="0" fill="none" stroke-width="1.1" />
<line x1="431.3" y1="888.5999999999999" x2="442.5" y2="888.5999999999999" stroke-width="1.8" />
<text transform="translate(434.52,886.72) scale(0.808,1)" font-size="10.63" font-weight="bold" stroke-width="0.50">9</text>
<rect x="453" y="877.8" width="11.399999999999977" height="12.0" rx="0" fill="none" stroke-width="1.1" />
<line x1="453" y1="888.5999999999999" x2="464.4" y2="888.5999999999999" stroke-width="1.8" />
<path d="M456.07,879.28 L456.07,886.72 M456.21,879.70 L454.47,881.51" stroke-width="1.40" fill="none" stroke-linecap="butt"/>
<text transform="translate(458.16,886.72) scale(0.871,1)" font-size="10.63" font-weight="bold" stroke-width="0.50">0</text>
<rect x="464.4" y="877.8" width="11.200000000000045" height="12.0" rx="0" fill="none" stroke-width="1.1" />
<line x1="464.4" y1="888.5999999999999" x2="475.6" y2="888.5999999999999" stroke-width="1.8" />
<path d="M467.87,879.28 L467.87,886.72 M468.01,879.70 L466.22,881.51" stroke-width="1.40" fill="none" stroke-linecap="butt"/>
<path d="M473.08,879.28 L473.08,886.72 M473.22,879.70 L471.43,881.51" stroke-width="1.40" fill="none" stroke-linecap="butt"/>
<rect x="475.6" y="877.8" width="11.299999999999955" height="12.0" rx="0" fill="none" stroke-width="1.1" />
<line x1="475.6" y1="888.5999999999999" x2="486.9" y2="888.5999999999999" stroke-width="1.8" />
<path d="M478.62,879.28 L478.62,886.72 M478.76,879.70 L477.02,881.51" stroke-width="1.40" fill="none" stroke-linecap="butt"/>
<text transform="translate(480.76,886.72) scale(0.862,1)" font-size="10.63" font-weight="bold" stroke-width="0.50">2</text>
<rect x="409.2" y="890.4" width="11.0" height="12.600000000000023" rx="0" fill="none" stroke-width="1.1" />
<line x1="409.2" y1="901.8" x2="420.2" y2="901.8" stroke-width="1.8" />
<path d="M412.03,892.10 L412.03,899.70 M412.17,892.52 L410.38,894.38" stroke-width="1.40" fill="none" stroke-linecap="butt"/>
<text transform="translate(414.30,899.7) scale(0.836,1)" font-size="10.86" font-weight="bold" stroke-width="0.50">3</text>
<rect x="420.2" y="890.4" width="11.100000000000023" height="12.600000000000023" rx="0" fill="none" stroke-width="1.1" />
<line x1="420.2" y1="901.8" x2="431.3" y2="901.8" stroke-width="1.8" />
<path d="M423.08,892.10 L423.08,899.70 M423.22,892.52 L421.43,894.38" stroke-width="1.40" fill="none" stroke-linecap="butt"/>
<text transform="translate(425.45,899.7) scale(0.773,1)" font-size="10.86" font-weight="bold" stroke-width="0.50">4</text>
<rect x="431.3" y="890.4" width="11.199999999999989" height="12.600000000000023" rx="0" fill="none" stroke-width="1.1" />
<line x1="431.3" y1="901.8" x2="442.5" y2="901.8" stroke-width="1.8" />
<path d="M434.23,892.10 L434.23,899.70 M434.37,892.52 L432.58,894.38" stroke-width="1.40" fill="none" stroke-linecap="butt"/>
<text transform="translate(436.46,899.7) scale(0.828,1)" font-size="10.86" font-weight="bold" stroke-width="0.50">5</text>
<rect x="453" y="890.4" width="11.399999999999977" height="12.600000000000023" rx="0" fill="none" stroke-width="1.1" />
<line x1="453" y1="901.8" x2="464.4" y2="901.8" stroke-width="1.8" />
<path d="M456.03,892.10 L456.03,899.70 M456.17,892.52 L454.38,894.38" stroke-width="1.40" fill="none" stroke-linecap="butt"/>
<text transform="translate(458.15,899.7) scale(0.871,1)" font-size="10.86" font-weight="bold" stroke-width="0.50">7</text>
<rect x="464.4" y="890.4" width="11.200000000000045" height="12.600000000000023" rx="0" fill="none" stroke-width="1.1" />
<line x1="464.4" y1="901.8" x2="475.6" y2="901.8" stroke-width="1.8" />
<path d="M467.33,892.10 L467.33,899.70 M467.47,892.52 L465.68,894.38" stroke-width="1.40" fill="none" stroke-linecap="butt"/>
<text transform="translate(469.56,899.7) scale(0.836,1)" font-size="10.86" font-weight="bold" stroke-width="0.50">8</text>
<rect x="475.6" y="890.4" width="11.299999999999955" height="12.600000000000023" rx="0" fill="none" stroke-width="1.1" />
<line x1="475.6" y1="901.8" x2="486.9" y2="901.8" stroke-width="1.8" />
<path d="M478.58,892.10 L478.58,899.70 M478.72,892.52 L476.93,894.38" stroke-width="1.40" fill="none" stroke-linecap="butt"/>
<text transform="translate(480.76,899.7) scale(0.853,1)" font-size="10.86" font-weight="bold" stroke-width="0.50">9</text>
<rect x="442.5" y="885.5" width="10.5" height="17.5" rx="0" fill="none" stroke-width="1.1" />
<line x1="442.5" y1="901.8" x2="453" y2="901.8" stroke-width="1.8" />
<path d="M445.08,889.65 L445.08,897.25 M445.22,890.07 L443.43,891.93" stroke-width="1.40" fill="none" stroke-linecap="butt"/>
<text transform="translate(447.26,897.25) scale(0.853,1)" font-size="10.86" font-weight="bold" stroke-width="0.50">6</text>
<rect x="444.6" y="876.2" width="6.399999999999977" height="8.599999999999909" rx="0" fill="none" stroke-width="1.1" />
<line x1="409.2" y1="904.5" x2="486.9" y2="904.5" stroke-width="1.6" />
<rect x="500.2" y="830.5" width="40.69999999999999" height="11.5" rx="4.0" fill="none" stroke-width="1.5" />
<text transform="translate(505.78,840.205) scale(0.669,1)" font-size="12.16" font-weight="bold" stroke-width="0.45">C</text>
<rect x="511.88" y="835.89" width="5.62" height="1.15" fill="#151515" stroke="none"/>
<path d="M521.18,831.70 L521.18,840.21 M521.33,832.15 L519.28,834.25" stroke-width="1.53" fill="none" stroke-linecap="butt"/>
<path d="M527.10,831.70 L527.10,840.21 M527.25,832.15 L525.20,834.25" stroke-width="1.53" fill="none" stroke-linecap="butt"/>
<text transform="translate(529.54,840.205) scale(0.864,1)" font-size="12.16" font-weight="bold" stroke-width="0.45">6</text>
<rect x="502.5" y="850.6" width="179.39999999999998" height="71.89999999999998" rx="0" fill="none" stroke-width="1.4" />
<rect x="509.4" y="852.5" width="10.600000000000023" height="15.299999999999955" rx="0" fill="none" stroke-width="1.1" />
<line x1="509.4" y1="866.5999999999999" x2="520" y2="866.5999999999999" stroke-width="1.8" />
<path d="M515.20,855.55 L515.20,863.15 M515.34,855.97 L513.50,857.83" stroke-width="1.40" fill="none" stroke-linecap="butt"/>
<rect x="520" y="852.5" width="11.25" height="15.299999999999955" rx="0" fill="none" stroke-width="1.1" />
<line x1="520" y1="866.5999999999999" x2="531.25" y2="866.5999999999999" stroke-width="1.8" />
<text transform="translate(523.19,863.15) scale(0.817,1)" font-size="10.86" font-weight="bold" stroke-width="0.50">2</text>
<rect x="541.9" y="852.5" width="11.100000000000023" height="15.299999999999955" rx="0" fill="none" stroke-width="1.1" />
<line x1="541.9" y1="866.5999999999999" x2="553" y2="866.5999999999999" stroke-width="1.8" />
<text transform="translate(545.11,863.15) scale(0.792,1)" font-size="10.86" font-weight="bold" stroke-width="0.50">3</text>
<rect x="553" y="852.5" width="11.399999999999977" height="15.299999999999955" rx="0" fill="none" stroke-width="1.1" />
<line x1="553" y1="866.5999999999999" x2="564.4" y2="866.5999999999999" stroke-width="1.8" />
<text transform="translate(556.45,863.15) scale(0.733,1)" font-size="10.86" font-weight="bold" stroke-width="0.50">4</text>
<rect x="531.25" y="852.5" width="10.649999999999977" height="15.299999999999955" rx="0" fill="none" stroke-width="1.1" />
<line x1="531.25" y1="852.5" x2="541.9" y2="867.8" stroke-width="1.1" />
<line x1="541.9" y1="852.5" x2="531.25" y2="867.8" stroke-width="1.1" />
<rect x="509.4" y="869.4" width="10.600000000000023" height="14.600000000000023" rx="0" fill="none" stroke-width="1.1" />
<line x1="509.4" y1="882.8" x2="520" y2="882.8" stroke-width="1.8" />
<path d="M512.03,872.10 L512.03,879.70 M512.17,872.52 L510.38,874.38" stroke-width="1.40" fill="none" stroke-linecap="butt"/>
<text transform="translate(514.15,879.7) scale(0.871,1)" font-size="10.86" font-weight="bold" stroke-width="0.50">0</text>
<rect x="520" y="869.4" width="11.25" height="14.600000000000023" rx="0" fill="none" stroke-width="1.1" />
<line x1="520" y1="882.8" x2="531.25" y2="882.8" stroke-width="1.8" />
<path d="M523.46,872.10 L523.46,879.70 M523.60,872.52 L521.77,874.38" stroke-width="1.40" fill="none" stroke-linecap="butt"/>
<path d="M528.78,872.10 L528.78,879.70 M528.92,872.52 L527.09,874.38" stroke-width="1.40" fill="none" stroke-linecap="butt"/>
<rect x="531.25" y="869.4" width="10.649999999999977" height="14.600000000000023" rx="0" fill="none" stroke-width="1.1" />
<line x1="531.25" y1="882.8" x2="541.9" y2="882.8" stroke-width="1.8" />
<path d="M533.90,872.10 L533.90,879.70 M534.04,872.52 L532.25,874.38" stroke-width="1.40" fill="none" stroke-linecap="butt"/>
<text transform="translate(536.08,879.7) scale(0.862,1)" font-size="10.86" font-weight="bold" stroke-width="0.50">2</text>
<rect x="541.9" y="869.4" width="11.100000000000023" height="14.600000000000023" rx="0" fill="none" stroke-width="1.1" />
<line x1="541.9" y1="882.8" x2="553" y2="882.8" stroke-width="1.8" />
<path d="M544.78,872.10 L544.78,879.70 M544.92,872.52 L543.13,874.38" stroke-width="1.40" fill="none" stroke-linecap="butt"/>
<text transform="translate(547.05,879.7) scale(0.836,1)" font-size="10.86" font-weight="bold" stroke-width="0.50">3</text>
<rect x="553" y="869.4" width="11.399999999999977" height="14.600000000000023" rx="0" fill="none" stroke-width="1.1" />
<line x1="553" y1="882.8" x2="564.4" y2="882.8" stroke-width="1.8" />
<path d="M556.03,872.10 L556.03,879.70 M556.17,872.52 L554.38,874.38" stroke-width="1.40" fill="none" stroke-linecap="butt"/>
<text transform="translate(558.40,879.7) scale(0.773,1)" font-size="10.86" font-weight="bold" stroke-width="0.50">4</text>
<rect x="509.4" y="885.6" width="10.600000000000023" height="15.199999999999932" rx="0" fill="none" stroke-width="1.1" />
<line x1="509.4" y1="899.5999999999999" x2="520" y2="899.5999999999999" stroke-width="1.8" />
<text transform="translate(509.90,896.2) scale(0.798,1)" font-size="10.86" font-weight="bold" stroke-width="0.50">2</text>
<text transform="translate(514.74,896.2) scale(0.798,1)" font-size="10.86" font-weight="bold" stroke-width="0.50">2</text>
<rect x="520" y="885.6" width="11.25" height="15.199999999999932" rx="0" fill="none" stroke-width="1.1" />
<line x1="520" y1="899.5999999999999" x2="531.25" y2="899.5999999999999" stroke-width="1.8" />
<text transform="translate(520.51,896.2) scale(0.850,1)" font-size="10.86" font-weight="bold" stroke-width="0.50">2</text>
<text transform="translate(525.76,896.2) scale(0.824,1)" font-size="10.86" font-weight="bold" stroke-width="0.50">3</text>
<rect x="531.25" y="885.6" width="10.649999999999977" height="15.199999999999932" rx="0" fill="none" stroke-width="1.1" />
<line x1="531.25" y1="899.5999999999999" x2="541.9" y2="899.5999999999999" stroke-width="1.8" />
<text transform="translate(531.74,896.2) scale(0.803,1)" font-size="10.86" font-weight="bold" stroke-width="0.50">2</text>
<text transform="translate(536.80,896.2) scale(0.720,1)" font-size="10.86" font-weight="bold" stroke-width="0.50">4</text>
<rect x="541.9" y="885.6" width="11.100000000000023" height="15.199999999999932" rx="0" fill="none" stroke-width="1.1" />
<line x1="541.9" y1="899.5999999999999" x2="553" y2="899.5999999999999" stroke-width="1.8" />
<text transform="translate(542.38,896.2) scale(0.843,1)" font-size="10.86" font-weight="bold" stroke-width="0.50">2</text>
<text transform="translate(547.54,896.2) scale(0.809,1)" font-size="10.86" font-weight="bold" stroke-width="0.50">5</text>
<rect x="553" y="885.6" width="11.399999999999977" height="15.199999999999932" rx="0" fill="none" stroke-width="1.1" />
<line x1="553" y1="899.5999999999999" x2="564.4" y2="899.5999999999999" stroke-width="1.8" />
<text transform="translate(553.59,896.2) scale(0.850,1)" font-size="10.86" font-weight="bold" stroke-width="0.50">2</text>
<text transform="translate(558.74,896.2) scale(0.841,1)" font-size="10.86" font-weight="bold" stroke-width="0.50">6</text>
<rect x="520" y="902.6" width="11.25" height="15.0" rx="0" fill="none" stroke-width="1.1" />
<line x1="520" y1="916.4" x2="531.25" y2="916.4" stroke-width="1.8" />
<text transform="translate(520.61,913.1) scale(0.824,1)" font-size="10.86" font-weight="bold" stroke-width="0.50">3</text>
<text transform="translate(525.86,913.1) scale(0.762,1)" font-size="10.86" font-weight="bold" stroke-width="0.50">4</text>
<rect x="531.25" y="902.6" width="10.649999999999977" height="15.0" rx="0" fill="none" stroke-width="1.1" />
<line x1="531.25" y1="916.4" x2="541.9" y2="916.4" stroke-width="1.8" />
<text transform="translate(531.84,913.1) scale(0.779,1)" font-size="10.86" font-weight="bold" stroke-width="0.50">3</text>
<text transform="translate(536.66,913.1) scale(0.771,1)" font-size="10.86" font-weight="bold" stroke-width="0.50">5</text>
<rect x="541.9" y="902.6" width="11.100000000000023" height="15.0" rx="0" fill="none" stroke-width="1.1" />
<line x1="541.9" y1="916.4" x2="553" y2="916.4" stroke-width="1.8" />
<text transform="translate(542.48,913.1) scale(0.817,1)" font-size="10.86" font-weight="bold" stroke-width="0.50">3</text>
<text transform="translate(547.49,913.1) scale(0.834,1)" font-size="10.86" font-weight="bold" stroke-width="0.50">6</text>
<rect x="553" y="902.6" width="11.399999999999977" height="15.0" rx="0" fill="none" stroke-width="1.1" />
<line x1="553" y1="916.4" x2="564.4" y2="916.4" stroke-width="1.8" />
<text transform="translate(553.69,913.1) scale(0.824,1)" font-size="10.86" font-weight="bold" stroke-width="0.50">3</text>
<text transform="translate(558.69,913.1) scale(0.859,1)" font-size="10.86" font-weight="bold" stroke-width="0.50">7</text>
<polyline points="509.4,903 520,917.6" fill="none" stroke-width="1.2" />
<rect x="503.5" y="851.8" width="4.0" height="4.0" rx="0" fill="none" stroke-width="1.0" />
<rect x="503.5" y="899.6" width="4.0" height="4.0" rx="0" fill="none" stroke-width="1.0" />
<rect x="575.6" y="870" width="21.899999999999977" height="14.399999999999977" rx="0" fill="none" stroke-width="1.3" />
<rect x="577.6" y="872" width="17.899999999999977" height="11" rx="0" fill="none" stroke-width="1.1" />
<path d="M583.93,873.80 L583.93,881.20 M584.07,874.22 L582.34,876.02" stroke-width="1.40" fill="none" stroke-linecap="butt"/>
<text transform="translate(586.12,881.2) scale(0.828,1)" font-size="10.57" font-weight="bold" stroke-width="0.50">5</text>
<rect x="575.6" y="885.6" width="21.899999999999977" height="15.199999999999932" rx="0" fill="none" stroke-width="1.1" />
<line x1="575.6" y1="899.5999999999999" x2="597.5" y2="899.5999999999999" stroke-width="1.8" />
<text transform="translate(581.44,896.2) scale(0.850,1)" font-size="10.86" font-weight="bold" stroke-width="0.50">2</text>
<text transform="translate(586.54,896.2) scale(0.859,1)" font-size="10.86" font-weight="bold" stroke-width="0.50">7</text>
<rect x="575.6" y="902.6" width="21.899999999999977" height="15.0" rx="0" fill="none" stroke-width="1.1" />
<line x1="575.6" y1="916.4" x2="597.5" y2="916.4" stroke-width="1.8" />
<text transform="translate(581.54,913.1) scale(0.824,1)" font-size="10.86" font-weight="bold" stroke-width="0.50">3</text>
<text transform="translate(586.64,913.1) scale(0.824,1)" font-size="10.86" font-weight="bold" stroke-width="0.50">8</text>
<line x1="564.4" y1="885.3" x2="575.6" y2="885.3" stroke-width="1.1" />
<line x1="597.5" y1="885.3" x2="608.75" y2="885.3" stroke-width="1.1" />
<rect x="608.75" y="852.5" width="10.649999999999977" height="15.299999999999955" rx="0" fill="none" stroke-width="1.1" />
<line x1="608.75" y1="866.5999999999999" x2="619.4" y2="866.5999999999999" stroke-width="1.8" />
<text transform="translate(611.69,863.15) scale(0.784,1)" font-size="10.86" font-weight="bold" stroke-width="0.50">5</text>
<rect x="619.4" y="852.5" width="10.600000000000023" height="15.299999999999955" rx="0" fill="none" stroke-width="1.1" />
<line x1="619.4" y1="866.5999999999999" x2="630" y2="866.5999999999999" stroke-width="1.8" />
<text transform="translate(622.26,863.15) scale(0.808,1)" font-size="10.86" font-weight="bold" stroke-width="0.50">6</text>
<rect x="630" y="852.5" width="11.899999999999977" height="15.299999999999955" rx="0" fill="none" stroke-width="1.1" />
<line x1="630" y1="866.5999999999999" x2="641.9" y2="866.5999999999999" stroke-width="1.8" />
<text transform="translate(633.46,863.15) scale(0.825,1)" font-size="10.86" font-weight="bold" stroke-width="0.50">7</text>
<rect x="652.5" y="852.5" width="11.899999999999977" height="15.299999999999955" rx="0" fill="none" stroke-width="1.1" />
<line x1="652.5" y1="866.5999999999999" x2="664.4" y2="866.5999999999999" stroke-width="1.8" />
<text transform="translate(656.06,863.15) scale(0.792,1)" font-size="10.86" font-weight="bold" stroke-width="0.50">8</text>
<rect x="664.4" y="852.5" width="10.600000000000023" height="15.299999999999955" rx="0" fill="none" stroke-width="1.1" />
<line x1="664.4" y1="866.5999999999999" x2="675" y2="866.5999999999999" stroke-width="1.8" />
<text transform="translate(667.26,863.15) scale(0.808,1)" font-size="10.86" font-weight="bold" stroke-width="0.50">9</text>
<rect x="641.9" y="852.5" width="10.600000000000023" height="15.299999999999955" rx="0" fill="none" stroke-width="1.1" />
<line x1="641.9" y1="852.5" x2="652.5" y2="867.8" stroke-width="1.1" />
<line x1="652.5" y1="852.5" x2="641.9" y2="867.8" stroke-width="1.1" />
<rect x="608.75" y="869.4" width="10.649999999999977" height="14.600000000000023" rx="0" fill="none" stroke-width="1.1" />
<line x1="608.75" y1="882.8" x2="619.4" y2="882.8" stroke-width="1.8" />
<path d="M611.40,872.10 L611.40,879.70 M611.54,872.52 L609.75,874.38" stroke-width="1.40" fill="none" stroke-linecap="butt"/>
<text transform="translate(613.58,879.7) scale(0.853,1)" font-size="10.86" font-weight="bold" stroke-width="0.50">6</text>
<rect x="619.4" y="869.4" width="10.600000000000023" height="14.600000000000023" rx="0" fill="none" stroke-width="1.1" />
<line x1="619.4" y1="882.8" x2="630" y2="882.8" stroke-width="1.8" />
<path d="M622.03,872.10 L622.03,879.70 M622.17,872.52 L620.38,874.38" stroke-width="1.40" fill="none" stroke-linecap="butt"/>
<text transform="translate(624.15,879.7) scale(0.871,1)" font-size="10.86" font-weight="bold" stroke-width="0.50">7</text>
<rect x="630" y="869.4" width="11.899999999999977" height="14.600000000000023" rx="0" fill="none" stroke-width="1.1" />
<line x1="630" y1="882.8" x2="641.9" y2="882.8" stroke-width="1.8" />
<path d="M633.28,872.10 L633.28,879.70 M633.42,872.52 L631.63,874.38" stroke-width="1.40" fill="none" stroke-linecap="butt"/>
<text transform="translate(635.51,879.7) scale(0.836,1)" font-size="10.86" font-weight="bold" stroke-width="0.50">8</text>
<rect x="641.9" y="869.4" width="10.600000000000023" height="14.600000000000023" rx="0" fill="none" stroke-width="1.1" />
<line x1="641.9" y1="882.8" x2="652.5" y2="882.8" stroke-width="1.8" />
<path d="M644.53,872.10 L644.53,879.70 M644.67,872.52 L642.88,874.38" stroke-width="1.40" fill="none" stroke-linecap="butt"/>
<text transform="translate(646.71,879.7) scale(0.853,1)" font-size="10.86" font-weight="bold" stroke-width="0.50">9</text>
<rect x="652.5" y="869.4" width="11.899999999999977" height="14.600000000000023" rx="0" fill="none" stroke-width="1.1" />
<line x1="652.5" y1="882.8" x2="664.4" y2="882.8" stroke-width="1.8" />
<text transform="translate(653.34,879.7) scale(0.850,1)" font-size="10.86" font-weight="bold" stroke-width="0.50">2</text>
<text transform="translate(658.44,879.7) scale(0.859,1)" font-size="10.86" font-weight="bold" stroke-width="0.50">0</text>
<rect x="664.4" y="869.4" width="10.600000000000023" height="14.600000000000023" rx="0" fill="none" stroke-width="1.1" />
<line x1="664.4" y1="882.8" x2="675" y2="882.8" stroke-width="1.8" />
<text transform="translate(665.05,879.7) scale(0.862,1)" font-size="10.86" font-weight="bold" stroke-width="0.50">2</text>
<path d="M673.32,872.10 L673.32,879.70 M673.46,872.52 L671.67,874.38" stroke-width="1.40" fill="none" stroke-linecap="butt"/>
<rect x="597.5" y="885.6" width="11.25" height="15.199999999999932" rx="0" fill="none" stroke-width="1.1" />
<line x1="597.5" y1="899.5999999999999" x2="608.75" y2="899.5999999999999" stroke-width="1.8" />
<text transform="translate(598.01,896.2) scale(0.850,1)" font-size="10.86" font-weight="bold" stroke-width="0.50">2</text>
<text transform="translate(603.22,896.2) scale(0.824,1)" font-size="10.86" font-weight="bold" stroke-width="0.50">8</text>
<rect x="608.75" y="885.6" width="10.649999999999977" height="15.199999999999932" rx="0" fill="none" stroke-width="1.1" />
<line x1="608.75" y1="899.5999999999999" x2="619.4" y2="899.5999999999999" stroke-width="1.8" />
<text transform="translate(609.24,896.2) scale(0.803,1)" font-size="10.86" font-weight="bold" stroke-width="0.50">2</text>
<text transform="translate(614.11,896.2) scale(0.795,1)" font-size="10.86" font-weight="bold" stroke-width="0.50">9</text>
<rect x="630" y="885.6" width="11.899999999999977" height="15.199999999999932" rx="0" fill="none" stroke-width="1.1" />
<line x1="630" y1="899.5999999999999" x2="641.9" y2="899.5999999999999" stroke-width="1.8" />
<text transform="translate(630.94,896.2) scale(0.824,1)" font-size="10.86" font-weight="bold" stroke-width="0.50">3</text>
<text transform="translate(635.94,896.2) scale(0.859,1)" font-size="10.86" font-weight="bold" stroke-width="0.50">0</text>
<rect x="641.9" y="885.6" width="10.600000000000023" height="15.199999999999932" rx="0" fill="none" stroke-width="1.1" />
<line x1="641.9" y1="899.5999999999999" x2="652.5" y2="899.5999999999999" stroke-width="1.8" />
<text transform="translate(642.65,896.2) scale(0.836,1)" font-size="10.86" font-weight="bold" stroke-width="0.50">3</text>
<path d="M650.82,888.60 L650.82,896.20 M650.96,889.02 L649.17,890.88" stroke-width="1.40" fill="none" stroke-linecap="butt"/>
<rect x="652.5" y="885.6" width="11.899999999999977" height="15.199999999999932" rx="0" fill="none" stroke-width="1.1" />
<line x1="652.5" y1="899.5999999999999" x2="664.4" y2="899.5999999999999" stroke-width="1.8" />
<text transform="translate(653.44,896.2) scale(0.824,1)" font-size="10.86" font-weight="bold" stroke-width="0.50">3</text>
<text transform="translate(658.49,896.2) scale(0.850,1)" font-size="10.86" font-weight="bold" stroke-width="0.50">2</text>
<rect x="664.4" y="885.6" width="10.600000000000023" height="15.199999999999932" rx="0" fill="none" stroke-width="1.1" />
<line x1="664.4" y1="899.5999999999999" x2="675" y2="899.5999999999999" stroke-width="1.8" />
<text transform="translate(664.99,896.2) scale(0.774,1)" font-size="10.86" font-weight="bold" stroke-width="0.50">3</text>
<text transform="translate(669.83,896.2) scale(0.774,1)" font-size="10.86" font-weight="bold" stroke-width="0.50">3</text>
<rect x="597.5" y="902.6" width="11.25" height="15.0" rx="0" fill="none" stroke-width="1.1" />
<line x1="597.5" y1="916.4" x2="608.75" y2="916.4" stroke-width="1.8" />
<text transform="translate(598.11,913.1) scale(0.824,1)" font-size="10.86" font-weight="bold" stroke-width="0.50">3</text>
<text transform="translate(603.17,913.1) scale(0.841,1)" font-size="10.86" font-weight="bold" stroke-width="0.50">9</text>
<rect x="608.75" y="902.6" width="10.649999999999977" height="15.0" rx="0" fill="none" stroke-width="1.1" />
<line x1="608.75" y1="916.4" x2="619.4" y2="916.4" stroke-width="1.8" />
<text transform="translate(609.43,913.1) scale(0.720,1)" font-size="10.86" font-weight="bold" stroke-width="0.50">4</text>
<text transform="translate(614.06,913.1) scale(0.811,1)" font-size="10.86" font-weight="bold" stroke-width="0.50">0</text>
<rect x="630" y="902.6" width="11.899999999999977" height="15.0" rx="0" fill="none" stroke-width="1.1" />
<line x1="630" y1="916.4" x2="641.9" y2="916.4" stroke-width="1.8" />
<text transform="translate(631.50,913.1) scale(0.773,1)" font-size="10.86" font-weight="bold" stroke-width="0.50">4</text>
<path d="M639.57,905.50 L639.57,913.10 M639.71,905.92 L637.92,907.78" stroke-width="1.40" fill="none" stroke-linecap="butt"/>
<rect x="641.9" y="902.6" width="10.600000000000023" height="15.0" rx="0" fill="none" stroke-width="1.1" />
<line x1="641.9" y1="916.4" x2="652.5" y2="916.4" stroke-width="1.8" />
<text transform="translate(642.58,913.1) scale(0.716,1)" font-size="10.86" font-weight="bold" stroke-width="0.50">4</text>
<text transform="translate(647.24,913.1) scale(0.798,1)" font-size="10.86" font-weight="bold" stroke-width="0.50">2</text>
<rect x="652.5" y="902.6" width="11.899999999999977" height="15.0" rx="0" fill="none" stroke-width="1.1" />
<line x1="652.5" y1="916.4" x2="664.4" y2="916.4" stroke-width="1.8" />
<text transform="translate(653.54,913.1) scale(0.762,1)" font-size="10.86" font-weight="bold" stroke-width="0.50">4</text>
<text transform="translate(658.59,913.1) scale(0.824,1)" font-size="10.86" font-weight="bold" stroke-width="0.50">3</text>
<line x1="608.75" y1="852.5" x2="630" y2="852.5" stroke-width="1.1" />
<rect x="520" y="917.6" width="11.25" height="3.3999999999999773" rx="0" fill="#666" stroke-width="0.8" />
<rect x="575.6" y="917.6" width="43.799999999999955" height="2.8999999999999773" rx="0" fill="#888" stroke-width="0.8" />
<path d="M630,917.6 L630,919.5 Q630,921.5 632,921.5 L662.4,921.5 Q664.4,921.5 664.4,919.5 L664.4,917.6" fill="#777" stroke-width="1.0" />
<rect x="676.5" y="851.8" width="4.0" height="4.0" rx="0" fill="none" stroke-width="1.0" />
<rect x="676.5" y="899.6" width="4.0" height="4.0" rx="0" fill="none" stroke-width="1.0" />
</g>
</svg>
</body></html>
